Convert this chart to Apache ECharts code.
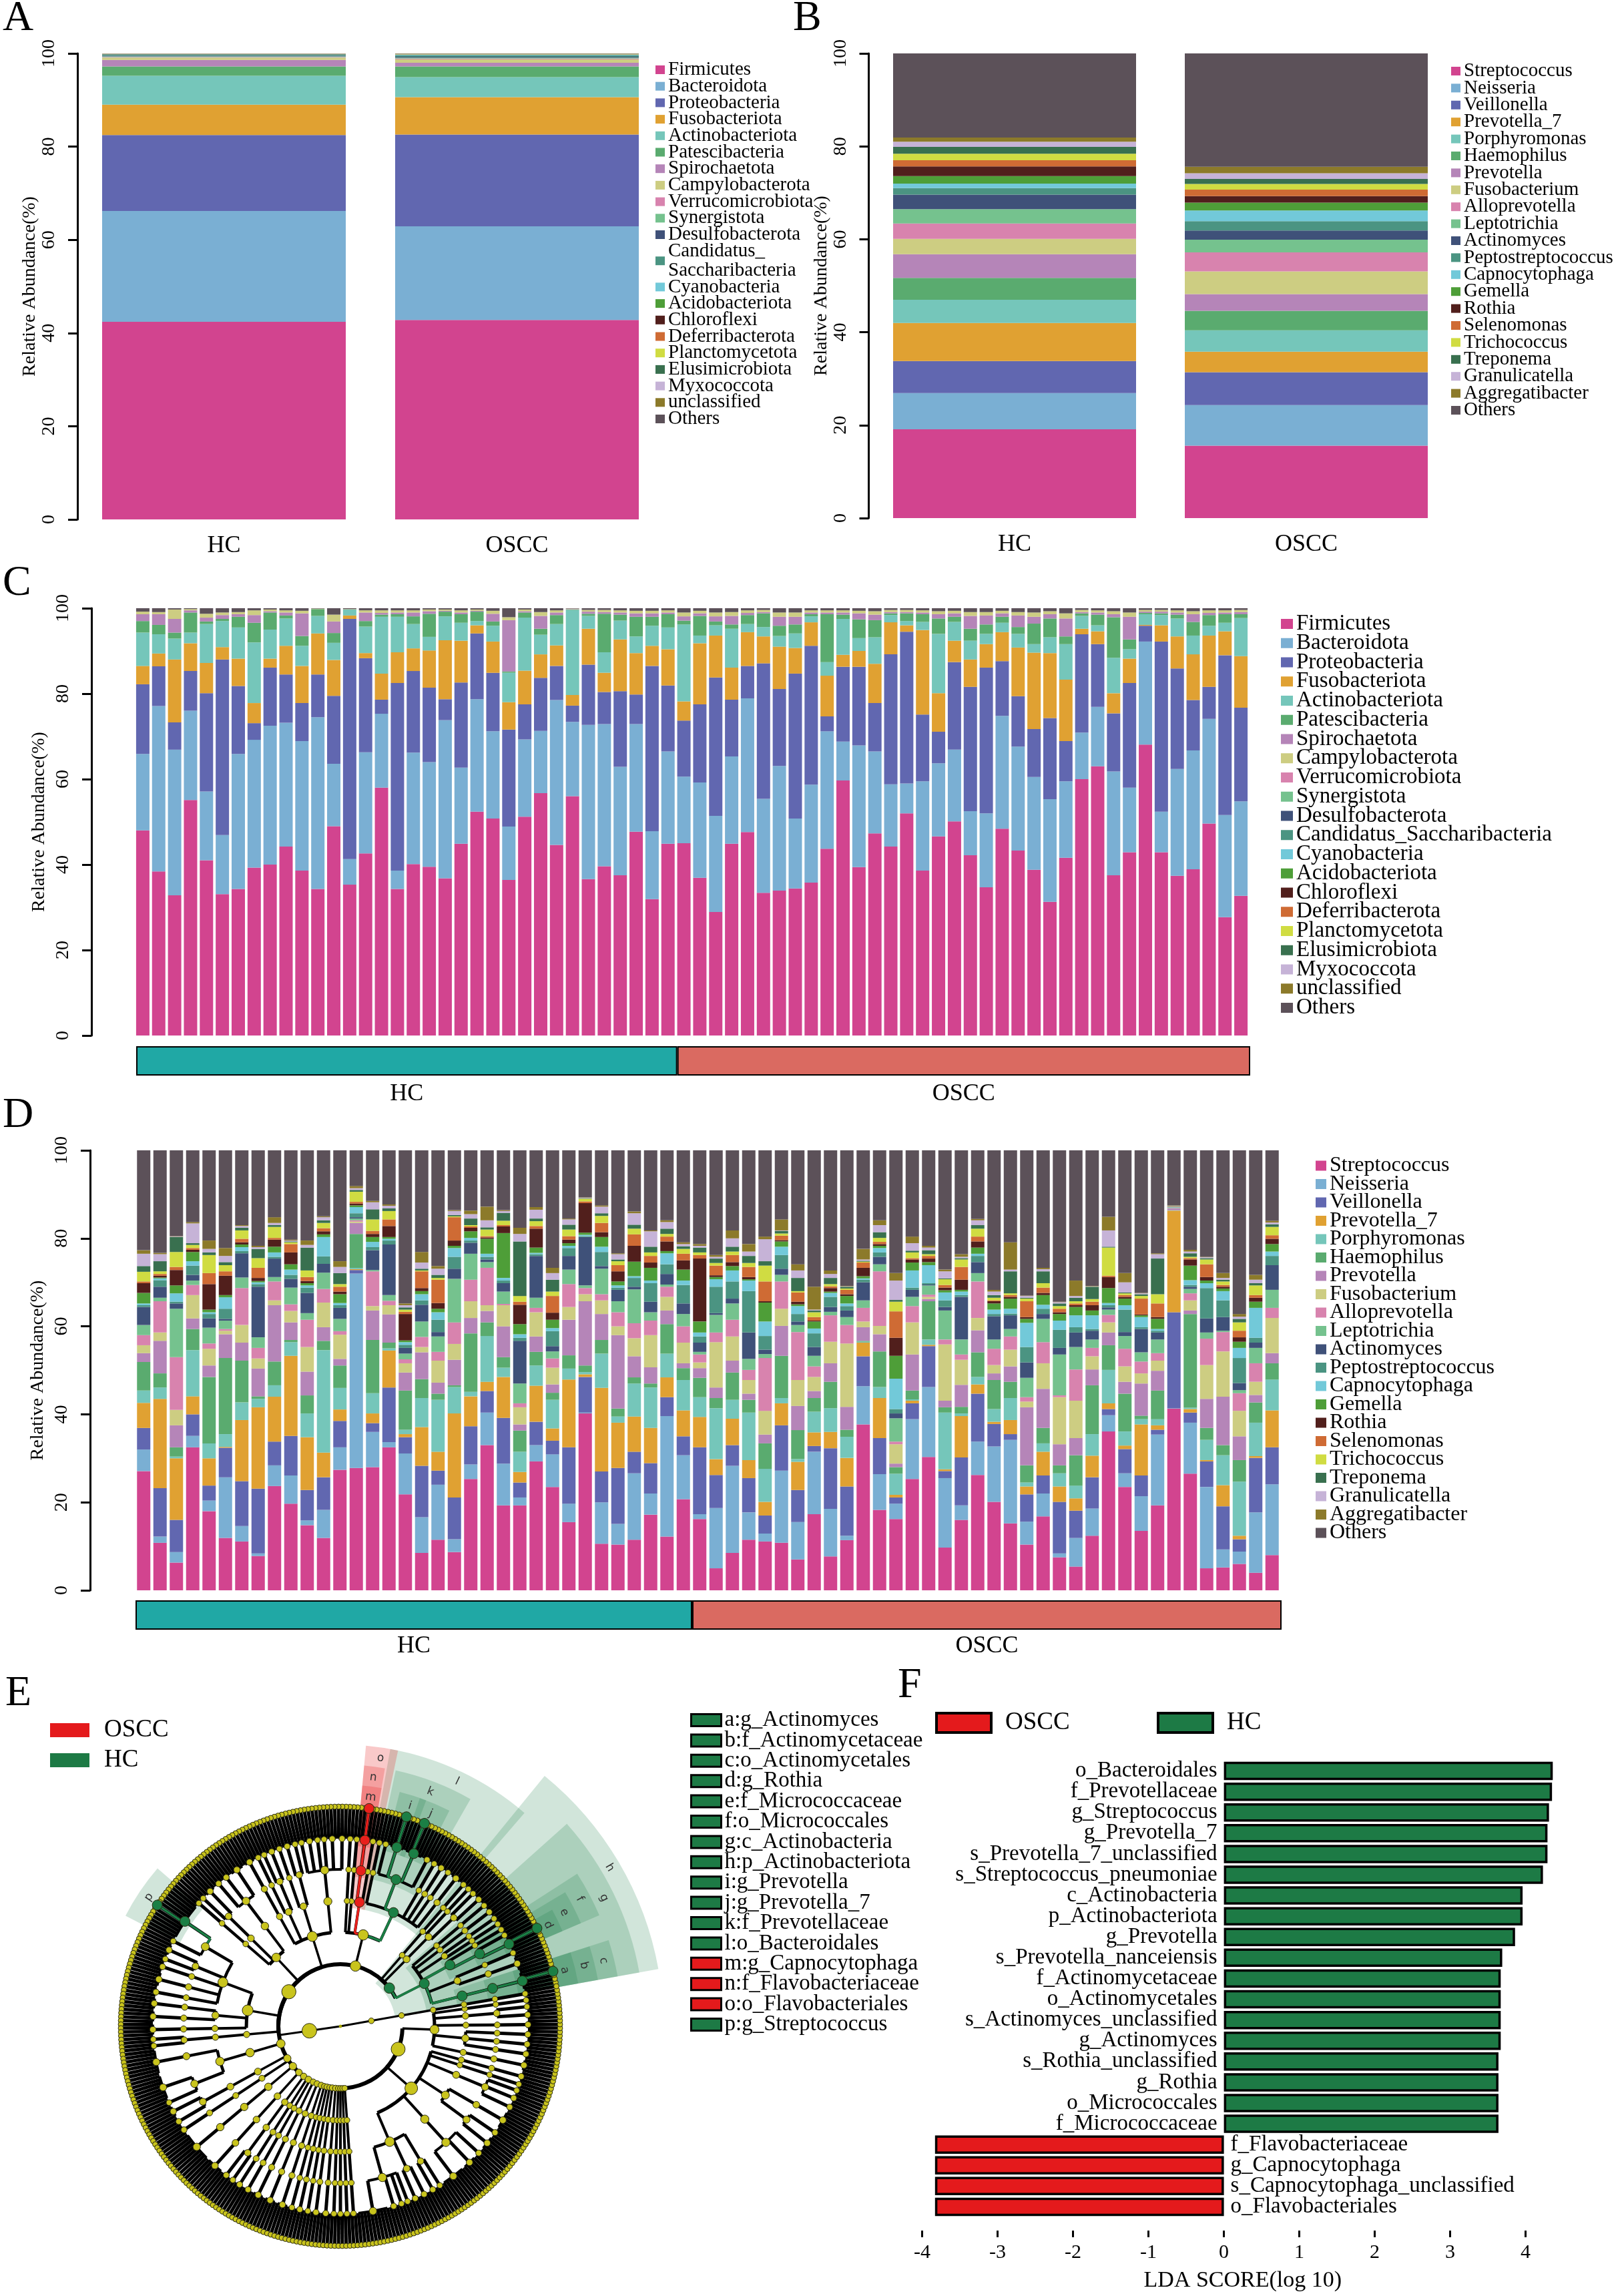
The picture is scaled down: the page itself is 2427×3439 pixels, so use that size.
<!DOCTYPE html>
<html lang="en">
<head>
<meta charset="utf-8">
<title>Oral microbiota: HC vs OSCC</title>
<script src="https://cdn.jsdelivr.net/npm/echarts@6/dist/echarts.min.js"></script>
<style>
  html, body { margin: 0; padding: 0; background: #fff; }
  #fig { width: 2427px; height: 3439px; }
</style>
</head>
<body>
<div id="fig"></div>
<script>
// ---------------- data ----------------
var groupNames = ['HC', 'OSCC'];
var groupSizes = [34, 36];

var phylumNames = ['Firmicutes', 'Bacteroidota', 'Proteobacteria', 'Fusobacteriota', 'Actinobacteriota',
  'Patescibacteria', 'Spirochaetota', 'Campylobacterota', 'Verrucomicrobiota', 'Synergistota',
  'Desulfobacterota', 'Candidatus_Saccharibacteria', 'Cyanobacteria', 'Acidobacteriota', 'Chloroflexi',
  'Deferribacterota', 'Planctomycetota', 'Elusimicrobiota', 'Myxococcota', 'unclassified', 'Others'];
var genusNames = ['Streptococcus', 'Neisseria', 'Veillonella', 'Prevotella_7', 'Porphyromonas',
  'Haemophilus', 'Prevotella', 'Fusobacterium', 'Alloprevotella', 'Leptotrichia', 'Actinomyces',
  'Peptostreptococcus', 'Capnocytophaga', 'Gemella', 'Rothia', 'Selenomonas', 'Trichococcus',
  'Treponema', 'Granulicatella', 'Aggregatibacter', 'Others'];

// A: mean phylum abundance (%) per group, same order as phylumNames
var phylumHC = [42.4, 23.8, 16.3, 6.5, 6.2, 2.0, 1.4, 0.5, 0.1, 0.15, 0.15, 0.25, 0.05, 0.02, 0.02, 0.03, 0.02, 0.01, 0.02, 0.03, 0.05];
var phylumOSCC = [42.8, 20.1, 19.7, 8.0, 4.3, 2.3, 0.8, 0.7, 0.2, 0.2, 0.2, 0.3, 0.1, 0.05, 0.03, 0.05, 0.03, 0.02, 0.03, 0.05, 0.04];

// B: mean genus abundance (%) per group, same order as genusNames
var genusHC = [19.1, 7.8, 6.9, 8.2, 5.0, 4.7, 5.1, 3.3, 3.3, 3.1, 3.1, 1.4, 1.0, 1.6, 2.1, 1.3, 1.4, 1.5, 1.1, 0.9, 18.1];
var genusOSCC = [15.6, 8.7, 7.1, 4.4, 4.6, 4.2, 3.6, 4.9, 4.1, 2.7, 2.0, 2.0, 2.3, 1.7, 1.4, 1.4, 1.2, 1.1, 1.2, 1.4, 24.4];

// C: per-sample phylum profile. "...Top" = upper edge of the segment (cumulative %), 34 HC then 36 OSCC
var cFirmicutesTop = [48.0, 38.4, 32.8, 55.1, 41.0, 33.1, 34.3, 39.3, 40.0, 44.2,
  38.6, 34.3, 49.0, 35.3, 42.6, 58.0, 34.3, 40.1, 39.5, 36.8,
  44.9, 52.4, 50.8, 36.4, 51.2, 56.7, 44.6, 56.0, 36.6, 39.6,
  37.5, 47.7, 31.9, 44.9,
  45.0, 36.9, 28.9, 44.9, 47.6, 33.4, 33.9, 34.4, 35.8, 43.7,
  59.7, 39.4, 47.3, 44.2, 52.0, 38.6, 46.6, 50.1, 42.2, 34.7,
  48.4, 43.3, 38.8, 31.3, 41.6, 60.0, 63.0, 37.5, 42.9, 68.1,
  42.9, 37.4, 38.9, 49.6, 27.7, 32.7];
var cBacteroidotaTop = [65.9, 77.1, 66.9, 76.0, 57.1, 46.9, 65.9, 69.2, 72.5, 73.2,
  68.9, 74.5, 63.6, 41.3, 66.3, 75.3, 38.6, 66.2, 64.0, 73.8,
  62.7, 78.7, 71.2, 48.9, 69.3, 71.3, 78.5, 73.4, 72.7, 72.9,
  62.9, 72.9, 47.8, 66.5,
  60.6, 59.2, 51.4, 65.3, 78.9, 55.4, 63.1, 50.8, 58.7, 71.2,
  68.8, 67.9, 66.5, 58.8, 59.0, 59.5, 63.7, 66.9, 52.5, 52.0,
  74.8, 67.6, 60.5, 55.3, 59.5, 70.9, 76.9, 61.8, 58.0, 92.2,
  52.4, 62.4, 66.7, 74.1, 51.6, 54.8];
var cProteobacteriaTop = [82.2, 86.4, 73.3, 85.3, 80.1, 88.0, 81.8, 73.1, 86.1, 84.5,
  77.8, 84.5, 79.5, 97.5, 88.3, 78.6, 82.5, 85.3, 81.4, 78.7,
  82.6, 94.1, 84.9, 71.6, 77.5, 83.7, 86.5, 77.2, 86.8, 80.4,
  80.6, 79.8, 86.5, 81.9,
  73.7, 77.5, 83.8, 78.6, 86.5, 87.1, 81.1, 84.7, 91.2, 74.7,
  86.3, 86.3, 77.8, 89.2, 94.5, 75.1, 71.1, 87.4, 81.6, 86.1,
  87.6, 79.4, 71.7, 74.3, 68.9, 93.9, 91.6, 75.4, 82.5, 95.9,
  92.2, 85.9, 78.5, 81.6, 89.0, 76.7];
var cFusobacteriotaTop = [86.5, 89.4, 88.0, 91.8, 87.2, 90.9, 88.2, 77.8, 88.2, 91.2,
  86.5, 94.1, 87.9, 98.3, 89.5, 84.7, 89.7, 90.6, 90.1, 92.5,
  92.4, 96.0, 92.2, 78.0, 85.4, 89.2, 91.3, 79.7, 95.2, 84.9,
  92.7, 89.5, 91.2, 90.4,
  78.2, 91.8, 93.6, 86.1, 94.4, 93.4, 91.0, 90.7, 96.7, 84.2,
  89.1, 90.0, 87.0, 96.7, 96.0, 94.9, 80.1, 92.4, 88.0, 91.6,
  94.4, 90.8, 89.6, 89.5, 83.3, 95.2, 94.6, 80.1, 88.2, 96.1,
  96.0, 93.4, 89.2, 93.6, 94.6, 88.8];
var cActinobacteriotaTop = [94.3, 93.9, 92.9, 94.3, 96.3, 97.0, 95.5, 92.0, 95.0, 97.6,
  91.2, 98.2, 91.9, 99.7, 95.7, 98.0, 98.0, 96.3, 93.3, 98.1,
  96.6, 97.0, 95.9, 84.9, 97.8, 93.8, 96.3, 99.6, 98.2, 89.7,
  97.1, 93.4, 95.9, 95.5,
  96.2, 93.6, 96.0, 95.2, 96.3, 95.6, 93.5, 94.1, 98.1, 87.4,
  97.5, 93.0, 93.2, 98.4, 97.0, 96.8, 94.0, 96.8, 92.4, 94.0,
  96.6, 94.0, 91.6, 93.2, 91.6, 98.2, 96.0, 88.4, 90.4, 98.6,
  98.4, 97.6, 93.6, 95.9, 96.6, 97.7];
var cPatescibacteriaTop = [97.0, 96.1, 94.3, 99.0, 96.9, 97.5, 98.0, 96.6, 99.0, 98.3,
  93.5, 99.8, 94.2, 99.7, 97.0, 98.5, 98.6, 98.1, 98.7, 99.2,
  98.6, 99.2, 96.9, 85.2, 99.0, 95.2, 98.4, 99.7, 98.7, 98.7,
  98.5, 98.0, 98.0, 98.6,
  97.1, 98.2, 96.9, 96.2, 98.4, 98.8, 95.9, 96.2, 98.6, 98.6,
  98.5, 97.4, 97.2, 98.8, 98.8, 98.6, 97.6, 98.0, 95.2, 96.2,
  98.0, 95.6, 96.4, 97.6, 93.4, 98.8, 98.5, 97.9, 92.7, 98.9,
  98.8, 98.5, 96.8, 98.4, 98.6, 98.6];
var cSpirochaetotaTop = [98.6, 98.6, 97.5, 99.5, 97.8, 98.4, 98.6, 98.4, 99.3, 99.0,
  98.8, 99.8, 96.9, 99.7, 99.0, 98.9, 99.0, 99.0, 99.3, 99.4,
  99.0, 99.4, 98.7, 97.2, 99.3, 98.2, 99.0, 99.8, 99.2, 99.1,
  99.0, 98.8, 98.8, 99.0,
  98.1, 98.8, 98.1, 98.2, 98.9, 99.1, 98.0, 98.0, 99.0, 99.0,
  99.0, 98.8, 98.5, 99.1, 99.1, 99.0, 98.6, 98.8, 98.2, 98.3,
  98.8, 98.3, 98.0, 98.6, 97.6, 99.1, 99.0, 98.6, 98.0, 99.2,
  99.2, 99.0, 98.6, 98.9, 99.0, 99.1];
// thickness (%) of the Campylobacterota segment
var cCampylobacterota = [0.6, 0.5, 2.2, 0.3, 0.9, 0.6, 0.5, 1.1, 0.4, 0.5,
  0.6, 0.1, 1.6, 0.1, 0.5, 0.6, 0.5, 0.5, 0.4, 0.3,
  0.5, 0.3, 0.7, 0.7, 0.4, 0.9, 0.5, 0.1, 0.4, 0.5,
  0.5, 0.6, 0.6, 0.5,
  0.9, 0.6, 0.9, 0.9, 0.6, 0.5, 1.0, 1.0, 0.5, 0.5,
  0.5, 0.6, 0.8, 0.5, 0.5, 0.5, 0.7, 0.6, 0.9, 0.8,
  0.6, 0.8, 1.0, 0.7, 1.2, 0.5, 0.5, 0.7, 1.0, 0.4,
  0.4, 0.5, 0.7, 0.6, 0.5, 0.5];

// D: per-sample genus profile, upper edges (cumulative %), 34 HC then 36 OSCC
var dStreptococcusTop = [27.1, 10.8, 6.3, 32.5, 18.0, 11.9, 11.1, 7.8, 23.7, 19.7,
  14.8, 11.9, 27.4, 27.8, 28.0, 32.5, 21.8, 8.5, 11.5, 8.7,
  25.3, 33.0, 19.3, 19.3, 29.3, 23.5, 15.5, 40.2, 10.6, 10.4,
  11.5, 17.2, 12.2, 20.7,
  16.2, 5.0, 8.5, 11.5, 11.1, 10.8, 7.0, 17.3, 7.7, 11.4,
  37.7, 18.3, 16.2, 25.3, 30.3, 9.7, 16.0, 26.2, 20.1, 15.2,
  10.4, 16.8, 7.5, 5.4, 12.4, 36.1, 23.5, 13.5, 19.3, 41.3,
  26.5, 5.0, 5.2, 6.0, 4.0, 8.0];
var dNeisseriaTop = [32.0, 12.2, 8.7, 35.1, 20.4, 25.7, 14.6, 8.4, 28.4, 26.1,
  15.9, 18.3, 32.5, 72.0, 36.0, 33.7, 31.1, 16.6, 24.0, 11.6,
  28.6, 40.4, 28.8, 21.1, 33.0, 30.9, 19.7, 40.4, 20.0, 15.1,
  26.6, 22.0, 39.6, 30.7,
  17.3, 18.7, 28.3, 17.7, 12.9, 27.2, 15.5, 31.5, 18.5, 12.4,
  46.4, 26.4, 19.7, 38.9, 46.2, 25.5, 19.3, 33.8, 32.7, 34.2,
  15.6, 22.0, 8.4, 11.9, 18.6, 39.8, 26.6, 21.4, 35.4, 41.4,
  38.1, 23.5, 9.3, 8.8, 17.7, 24.1];
var dVeillonellaTop = [36.9, 23.2, 16.0, 40.0, 23.8, 32.4, 24.8, 23.1, 33.8, 35.1,
  22.8, 25.7, 38.5, 72.8, 38.0, 46.1, 34.8, 28.3, 27.2, 21.1,
  37.3, 45.3, 39.2, 24.5, 38.3, 34.0, 32.5, 48.5, 27.0, 27.8,
  31.5, 28.9, 43.9, 35.0,
  32.5, 26.2, 33.0, 25.5, 17.0, 37.5, 22.8, 32.8, 32.3, 23.6,
  53.2, 34.6, 21.1, 42.5, 55.5, 27.1, 30.2, 44.7, 37.8, 35.5,
  21.8, 26.1, 20.1, 18.1, 25.7, 41.2, 32.1, 26.1, 36.5, 63.2,
  40.4, 29.3, 19.1, 11.6, 30.1, 32.5];
var dPrevotella7Top = [42.6, 43.5, 30.0, 44.1, 30.0, 32.6, 38.7, 41.6, 44.0, 53.3,
  34.8, 31.3, 41.1, 73.0, 40.2, 54.5, 35.5, 37.1, 31.5, 40.2,
  44.1, 47.4, 48.5, 26.9, 46.5, 36.8, 47.9, 49.1, 46.0, 38.1,
  39.5, 36.9, 48.4, 40.9,
  39.4, 29.8, 39.0, 29.6, 20.1, 42.5, 29.2, 35.9, 36.0, 30.1,
  56.3, 43.7, 21.7, 43.1, 55.8, 27.5, 39.6, 46.8, 38.3, 38.7,
  23.6, 31.5, 23.6, 20.9, 30.6, 42.5, 32.9, 37.7, 37.5, 86.3,
  41.2, 29.6, 23.9, 12.4, 30.5, 40.9];
var dPorphyromonasTop = [45.4, 46.1, 30.4, 54.6, 33.4, 35.5, 42.7, 43.5, 46.6, 56.4,
  40.2, 54.6, 46.0, 73.3, 44.8, 55.0, 36.5, 43.7, 43.3, 46.2,
  45.1, 57.8, 50.6, 31.5, 51.1, 43.3, 50.4, 49.6, 53.8, 39.5,
  47.0, 46.1, 53.8, 47.8,
  43.9, 41.4, 43.3, 40.4, 27.6, 43.7, 29.8, 40.6, 41.4, 34.9,
  56.5, 46.2, 26.5, 43.4, 57.0, 40.4, 40.2, 48.5, 41.2, 43.7,
  24.5, 33.4, 26.6, 23.8, 35.5, 50.1, 36.1, 38.9, 38.9, 86.35,
  41.5, 34.2, 30.7, 24.7, 38.1, 47.9];
var dHaemophilusTop = [51.9, 49.3, 32.5, 59.4, 48.5, 52.8, 52.2, 44.1, 52.0, 56.9,
  44.3, 56.7, 51.1, 81.0, 56.9, 56.3, 45.4, 48.0, 44.7, 46.6,
  58.4, 60.9, 53.0, 36.3, 54.2, 44.9, 53.4, 51.1, 56.9, 41.3,
  48.4, 47.0, 60.5, 50.5,
  48.3, 43.7, 49.5, 43.3, 33.4, 53.3, 36.4, 43.7, 47.4, 36.5,
  56.7, 54.3, 28.0, 45.4, 65.7, 41.6, 41.7, 54.1, 47.8, 47.4,
  28.4, 36.9, 28.4, 30.7, 46.6, 55.7, 44.7, 39.7, 45.4, 86.4,
  62.8, 36.9, 33.0, 29.6, 42.7, 51.6];
var dPrevotellaTop = [53.9, 56.7, 37.5, 61.8, 51.1, 58.2, 56.3, 50.4, 64.8, 60.9,
  49.7, 59.8, 52.6, 83.5, 63.6, 62.7, 49.5, 54.1, 47.2, 52.4,
  61.9, 63.5, 60.0, 37.7, 57.7, 46.8, 61.5, 65.7, 62.8, 58.0,
  53.2, 50.7, 63.6, 51.6,
  50.5, 46.1, 52.2, 44.7, 35.4, 60.1, 41.9, 45.3, 51.6, 41.7,
  59.8, 58.2, 28.8, 53.6, 66.2, 43.1, 46.7, 59.1, 49.3, 50.9,
  41.6, 45.8, 33.2, 34.6, 50.2, 58.6, 47.4, 47.0, 49.9, 86.8,
  63.6, 43.5, 44.0, 35.0, 44.4, 53.9];
var dFusobacteriumTop = [55.7, 58.6, 41.0, 67.1, 54.9, 59.0, 60.3, 52.7, 65.9, 63.5,
  55.3, 65.4, 58.1, 83.8, 64.6, 64.8, 51.6, 55.3, 52.2, 56.0,
  65.7, 64.8, 64.8, 41.6, 63.2, 50.6, 64.4, 67.3, 65.9, 60.0,
  57.3, 58.0, 66.7, 56.3,
  51.8, 56.4, 57.7, 47.8, 40.8, 64.0, 47.8, 48.5, 56.5, 56.1,
  61.1, 60.1, 33.2, 60.9, 66.7, 55.9, 52.4, 61.9, 51.2, 54.7,
  42.9, 51.6, 43.9, 43.1, 53.2, 60.9, 50.9, 49.3, 52.2, 86.85,
  65.9, 51.2, 54.3, 40.8, 47.4, 61.9];
var dAlloprevotellaTop = [58.0, 65.7, 53.0, 69.4, 56.1, 59.4, 68.7, 55.1, 70.2, 65.0,
  61.5, 68.5, 58.9, 84.1, 72.5, 65.8, 52.5, 57.6, 54.2, 60.9,
  70.6, 73.3, 65.1, 42.5, 64.2, 52.7, 69.6, 68.7, 67.3, 63.2,
  60.7, 61.3, 69.0, 60.0,
  53.6, 58.6, 61.5, 50.1, 52.8, 70.2, 58.7, 50.9, 62.5, 60.3,
  64.2, 72.5, 33.8, 64.6, 67.2, 57.0, 53.6, 70.2, 54.9, 57.7,
  43.9, 56.4, 44.3, 50.2, 55.1, 62.6, 54.9, 52.0, 53.9, 86.9,
  67.5, 57.2, 58.7, 44.8, 51.6, 64.2];
var dLeptotrichiaTop = [60.3, 66.5, 64.0, 70.4, 59.7, 61.3, 71.1, 57.5, 71.2, 68.8,
  63.0, 72.2, 61.7, 84.5, 72.8, 67.1, 53.8, 61.1, 57.7, 70.8,
  76.5, 74.6, 67.9, 47.0, 66.5, 54.3, 72.9, 69.3, 73.1, 65.7,
  68.4, 63.2, 69.5, 62.8,
  54.2, 62.6, 65.2, 52.6, 53.7, 71.7, 60.3, 53.3, 63.3, 62.1,
  65.9, 74.1, 39.1, 66.7, 69.3, 63.6, 57.0, 72.1, 57.0, 59.4,
  48.3, 61.7, 53.6, 55.3, 57.0, 63.8, 57.8, 54.1, 57.0, 86.95,
  68.5, 58.6, 59.0, 45.5, 55.1, 68.3];
var dActinomycesTop = [64.4, 69.0, 65.2, 71.7, 61.8, 61.7, 76.6, 69.0, 75.4, 70.8,
  67.6, 74.2, 64.2, 84.8, 77.3, 78.6, 55.1, 64.9, 58.7, 73.1,
  79.0, 75.2, 69.8, 56.7, 76.0, 55.5, 76.0, 80.3, 73.7, 68.3,
  69.0, 65.6, 71.9, 65.2,
  56.3, 63.0, 66.3, 58.6, 54.7, 73.1, 61.1, 55.3, 64.4, 63.6,
  70.0, 75.8, 40.2, 68.3, 69.5, 64.4, 66.7, 74.6, 62.3, 62.5,
  51.8, 62.8, 55.1, 58.6, 59.0, 64.3, 58.7, 59.4, 58.6, 87.0,
  69.0, 61.8, 62.1, 47.1, 56.3, 73.9];
var dPeptostreptococcusTop = [64.8, 70.5, 65.6, 73.8, 62.8, 64.0, 77.1, 69.6, 75.8, 71.7,
  68.8, 75.9, 64.8, 85.7, 78.0, 79.5, 55.8, 65.9, 61.5, 75.8,
  79.5, 75.8, 70.4, 57.4, 76.4, 58.9, 77.8, 80.5, 76.9, 68.8,
  71.0, 69.8, 74.1, 69.4,
  57.7, 69.0, 70.2, 68.0, 57.8, 76.2, 62.8, 58.4, 66.7, 64.6,
  70.6, 76.8, 41.2, 68.8, 69.8, 65.9, 67.1, 76.0, 62.8, 62.9,
  55.3, 64.0, 59.2, 59.8, 59.4, 64.8, 63.8, 59.8, 59.0, 87.05,
  69.4, 68.7, 65.9, 52.8, 57.4, 76.0];
var dCapnocytophagaTop = [65.2, 70.9, 67.5, 74.8, 63.2, 66.6, 78.0, 70.0, 76.8, 72.9,
  69.3, 80.3, 65.3, 87.1, 79.2, 79.9, 56.4, 67.3, 63.2, 77.8,
  80.1, 76.5, 71.0, 58.2, 76.7, 59.6, 78.3, 80.8, 78.1, 69.3,
  71.4, 70.4, 76.6, 70.4,
  58.6, 70.7, 72.7, 70.4, 61.1, 78.1, 64.6, 59.5, 67.6, 65.2,
  70.9, 77.8, 48.1, 72.7, 73.9, 67.7, 67.9, 76.5, 63.8, 64.0,
  60.8, 64.9, 61.3, 62.5, 62.5, 65.3, 64.8, 62.1, 59.4, 87.1,
  70.5, 69.8, 68.0, 55.1, 64.2, 77.0];
var dGemellaTop = [67.6, 71.1, 69.3, 76.9, 63.8, 67.1, 78.6, 70.3, 78.1, 74.1,
  69.8, 80.9, 67.3, 87.5, 80.3, 80.3, 56.8, 68.0, 64.0, 78.3,
  81.6, 79.9, 81.2, 60.5, 77.9, 61.5, 78.9, 81.3, 80.3, 70.2,
  74.7, 73.3, 77.1, 72.9,
  61.1, 71.2, 73.7, 70.7, 65.4, 79.3, 65.0, 61.1, 67.9, 66.9,
  71.4, 78.3, 53.3, 74.5, 74.6, 68.2, 68.3, 77.9, 65.2, 66.3,
  61.7, 67.1, 62.8, 64.4, 63.6, 68.7, 66.3, 62.5, 61.7, 87.15,
  73.8, 70.4, 68.6, 56.5, 65.6, 78.7];
var dRothiaTop = [69.8, 71.5, 72.8, 77.4, 69.6, 71.5, 79.1, 71.0, 79.7, 76.8,
  70.3, 81.6, 67.9, 87.9, 81.0, 82.8, 62.8, 68.7, 65.3, 79.5,
  82.4, 80.2, 82.7, 64.9, 82.2, 63.1, 79.7, 88.0, 81.4, 72.5,
  78.3, 74.5, 79.3, 75.0,
  75.4, 71.6, 74.6, 71.2, 65.7, 79.6, 65.6, 61.3, 68.7, 67.3,
  73.3, 78.7, 57.4, 75.2, 75.4, 68.8, 70.6, 79.3, 65.7, 66.7,
  62.1, 67.6, 63.2, 64.8, 64.8, 71.2, 66.7, 62.7, 62.1, 87.2,
  75.2, 71.2, 69.0, 57.5, 66.5, 79.9];
var dSelenomonasTop = [70.2, 71.9, 73.5, 77.8, 72.1, 72.5, 79.9, 73.3, 80.1, 78.7,
  71.2, 82.3, 69.0, 88.3, 81.7, 84.3, 63.3, 72.5, 70.6, 84.8,
  82.7, 80.5, 83.0, 65.6, 82.8, 66.9, 80.5, 88.4, 83.5, 73.9,
  80.9, 76.0, 80.4, 76.5,
  76.2, 73.8, 76.2, 73.5, 70.2, 80.6, 67.7, 62.1, 69.1, 68.3,
  74.5, 79.2, 63.4, 75.5, 76.0, 69.4, 73.5, 80.4, 65.9, 67.1,
  65.7, 68.8, 64.0, 65.2, 65.6, 71.5, 67.1, 66.3, 65.2, 87.25,
  75.5, 74.1, 69.4, 59.0, 67.1, 80.7];
var dTrichococcusTop = [72.4, 72.5, 76.9, 78.5, 76.2, 73.9, 81.8, 75.5, 82.6, 79.1,
  72.7, 83.5, 69.6, 90.6, 84.3, 86.2, 63.8, 72.7, 71.0, 85.0,
  83.0, 82.0, 84.0, 66.9, 83.9, 67.9, 82.0, 89.0, 85.1, 74.8,
  82.2, 76.8, 81.0, 77.6,
  76.8, 74.4, 77.0, 74.4, 73.8, 81.1, 68.0, 63.2, 69.6, 68.6,
  74.7, 80.1, 65.6, 76.8, 76.4, 70.7, 75.2, 82.2, 66.5, 67.5,
  66.3, 69.8, 64.6, 65.7, 66.2, 77.9, 67.5, 66.9, 67.3, 87.3,
  75.8, 75.2, 70.2, 60.9, 69.3, 82.6];
var dTreponemaTop = [73.7, 74.8, 80.3, 78.9, 76.8, 74.6, 82.4, 77.6, 83.0, 79.3,
  77.9, 84.1, 72.1, 91.0, 86.6, 86.8, 64.3, 73.1, 71.7, 85.3,
  84.5, 82.5, 85.8, 79.3, 84.5, 70.6, 83.1, 89.1, 85.7, 75.2,
  83.1, 78.1, 82.2, 78.2,
  77.9, 75.4, 78.1, 76.0, 74.8, 81.7, 71.0, 63.6, 71.0, 69.0,
  74.9, 81.4, 66.0, 77.2, 77.3, 70.9, 75.5, 83.0, 67.1, 72.5,
  66.5, 72.5, 65.2, 66.5, 69.0, 78.1, 67.7, 67.3, 75.4, 87.35,
  76.6, 75.5, 70.6, 61.7, 69.8, 83.2];
var dGranulicatellaTop = [76.5, 76.4, 80.4, 83.4, 77.6, 76.0, 82.8, 78.0, 83.5, 79.5,
  78.5, 84.8, 73.5, 91.4, 88.2, 87.4, 64.8, 74.5, 73.1, 86.2,
  85.5, 84.1, 86.2, 81.0, 86.5, 72.1, 84.3, 89.2, 87.2, 76.4,
  85.7, 81.6, 83.7, 78.7,
  78.3, 75.8, 80.0, 77.0, 79.8, 81.8, 72.7, 63.8, 71.9, 69.1,
  75.2, 83.0, 70.4, 78.9, 77.9, 72.5, 75.8, 84.1, 67.9, 72.9,
  66.9, 73.0, 65.5, 66.9, 69.1, 81.8, 70.0, 67.5, 76.4, 87.4,
  77.0, 75.7, 71.0, 62.2, 70.6, 83.6];
var dAggregatibacterTop = [77.3, 76.7, 80.5, 83.7, 79.5, 77.8, 83.0, 78.3, 84.8, 79.7,
  79.5, 85.0, 74.8, 91.9, 88.5, 87.7, 65.2, 76.9, 73.7, 86.4,
  86.3, 87.2, 86.4, 82.4, 87.1, 73.3, 84.5, 89.3, 87.5, 76.6,
  86.1, 81.8, 84.1, 79.1,
  78.7, 76.2, 81.8, 78.7, 80.4, 84.3, 74.1, 69.0, 72.7, 69.2,
  77.6, 84.1, 72.1, 80.4, 78.3, 72.9, 76.4, 84.4, 68.3, 79.1,
  67.0, 73.3, 65.6, 70.4, 69.2, 84.9, 72.1, 67.6, 76.6, 87.5,
  77.4, 75.8, 72.1, 62.8, 71.7, 84.0];

// E: taxonomy behind the cladogram: phylum, class, order, family, genus, number of species tips
var archaeaPhyla = ['Euryarchaeota'];
var cladeRows = [
  ['Actinobacteriota', 'Actinobacteria', 'Actinomycetales', 'Actinomycetaceae', 'Actinomyces', 6],
  ['Actinobacteriota', 'Actinobacteria', 'Corynebacteriales', 'Corynebacteriaceae', 'Corynebacterium', 5],
  ['Actinobacteriota', 'Actinobacteria', 'Corynebacteriales', 'Mycobacteriaceae', 'Mycobacterium', 2],
  ['Actinobacteriota', 'Actinobacteria', 'Micrococcales', 'Micrococcaceae', 'Rothia', 4],
  ['Actinobacteriota', 'Actinobacteria', 'Micrococcales', 'Micrococcaceae', 'Micrococcus', 2],
  ['Actinobacteriota', 'Actinobacteria', 'Micrococcales', 'Microbacteriaceae', 'Microbacterium', 2],
  ['Actinobacteriota', 'Actinobacteria', 'Propionibacteriales', 'Propionibacteriaceae', 'Cutibacterium', 2],
  ['Actinobacteriota', 'Actinobacteria', 'Propionibacteriales', 'Nocardioidaceae', 'Nocardioides', 2],
  ['Actinobacteriota', 'Actinobacteria', 'Bifidobacteriales', 'Bifidobacteriaceae', 'Bifidobacterium', 3],
  ['Actinobacteriota', 'Actinobacteria', 'Streptomycetales', 'Streptomycetaceae', 'Streptomyces', 2],
  ['Actinobacteriota', 'Coriobacteriia', 'Coriobacteriales', 'Atopobiaceae', 'Atopobium', 3],
  ['Actinobacteriota', 'Coriobacteriia', 'Coriobacteriales', 'Atopobiaceae', 'Olsenella', 2],
  ['Actinobacteriota', 'Coriobacteriia', 'Coriobacteriales', 'Eggerthellaceae', 'Slackia', 2],
  ['Actinobacteriota', 'Thermoleophilia', 'Solirubrobacterales', 'Solirubrobacteraceae', 'Solirubrobacter', 2],
  ['Bacteroidota', 'Bacteroidia', 'Bacteroidales', 'Porphyromonadaceae', 'Porphyromonas', 4],
  ['Bacteroidota', 'Bacteroidia', 'Bacteroidales', 'Tannerellaceae', 'Tannerella', 2],
  ['Bacteroidota', 'Bacteroidia', 'Bacteroidales', 'Bacteroidaceae', 'Bacteroides', 3],
  ['Bacteroidota', 'Bacteroidia', 'Bacteroidales', 'Muribaculaceae', 'Muribaculum', 2],
  ['Bacteroidota', 'Bacteroidia', 'Bacteroidales', 'Prevotellaceae', 'Alloprevotella', 3],
  ['Bacteroidota', 'Bacteroidia', 'Bacteroidales', 'Prevotellaceae', 'Prevotella_7', 6],
  ['Bacteroidota', 'Bacteroidia', 'Bacteroidales', 'Prevotellaceae', 'Prevotella', 5],
  ['Bacteroidota', 'Bacteroidia', 'Bacteroidales', 'Prevotellaceae', 'Prevotellaceae_UCG', 2],
  ['Bacteroidota', 'Bacteroidia', 'Bacteroidales', 'Rikenellaceae', 'Alistipes', 2],
  ['Bacteroidota', 'Bacteroidia', 'Flavobacteriales', 'Weeksellaceae', 'Bergeyella', 2],
  ['Bacteroidota', 'Bacteroidia', 'Flavobacteriales', 'Flavobacteriaceae', 'Capnocytophaga', 3],
  ['Bacteroidota', 'Bacteroidia', 'Chitinophagales', 'Chitinophagaceae', 'Sediminibacterium', 2],
  ['Bacteroidota', 'Bacteroidia', 'Sphingobacteriales', 'Sphingobacteriaceae', 'Sphingobacterium', 2],
  ['Firmicutes', 'Clostridia', 'Lachnospirales', 'Lachnospiraceae', 'Oribacterium', 3],
  ['Firmicutes', 'Clostridia', 'Lachnospirales', 'Lachnospiraceae', 'Lachnoanaerobaculum', 3],
  ['Firmicutes', 'Clostridia', 'Lachnospirales', 'Lachnospiraceae', 'Stomatobaculum', 2],
  ['Firmicutes', 'Clostridia', 'Lachnospirales', 'Lachnospiraceae', 'Catonella', 2],
  ['Firmicutes', 'Clostridia', 'Lachnospirales', 'Lachnospiraceae', 'Blautia', 3],
  ['Firmicutes', 'Clostridia', 'Lachnospirales', 'Lachnospiraceae', 'Roseburia', 2],
  ['Firmicutes', 'Clostridia', 'Oscillospirales', 'Ruminococcaceae', 'Faecalibacterium', 2],
  ['Firmicutes', 'Clostridia', 'Oscillospirales', 'Ruminococcaceae', 'Ruminococcus', 3],
  ['Firmicutes', 'Clostridia', 'Oscillospirales', 'Oscillospiraceae', 'Oscillibacter', 2],
  ['Firmicutes', 'Clostridia', 'Peptostreptococcales', 'Peptostreptococcaceae', 'Peptostreptococcus', 3],
  ['Firmicutes', 'Clostridia', 'Peptostreptococcales', 'Peptostreptococcaceae', 'Filifactor', 2],
  ['Firmicutes', 'Clostridia', 'Peptostreptococcales', 'Family_XIII', 'Mogibacterium', 2],
  ['Firmicutes', 'Clostridia', 'Clostridiales', 'Clostridiaceae', 'Clostridium', 4],
  ['Firmicutes', 'Negativicutes', 'Veillonellales', 'Veillonellaceae', 'Veillonella', 5],
  ['Firmicutes', 'Negativicutes', 'Veillonellales', 'Veillonellaceae', 'Megasphaera', 3],
  ['Firmicutes', 'Negativicutes', 'Veillonellales', 'Veillonellaceae', 'Dialister', 3],
  ['Firmicutes', 'Negativicutes', 'Selenomonadales', 'Selenomonadaceae', 'Selenomonas', 4],
  ['Firmicutes', 'Negativicutes', 'Selenomonadales', 'Selenomonadaceae', 'Centipeda', 2],
  ['Firmicutes', 'Negativicutes', 'Acidaminococcales', 'Acidaminococcaceae', 'Acidaminococcus', 2],
  ['Firmicutes', 'Bacilli', 'Lactobacillales', 'Streptococcaceae', 'Streptococcus', 12],
  ['Firmicutes', 'Bacilli', 'Lactobacillales', 'Streptococcaceae', 'Lactococcus', 2],
  ['Firmicutes', 'Bacilli', 'Lactobacillales', 'Carnobacteriaceae', 'Granulicatella', 4],
  ['Firmicutes', 'Bacilli', 'Lactobacillales', 'Carnobacteriaceae', 'Trichococcus', 2],
  ['Firmicutes', 'Bacilli', 'Lactobacillales', 'Aerococcaceae', 'Abiotrophia', 3],
  ['Firmicutes', 'Bacilli', 'Lactobacillales', 'Lactobacillaceae', 'Lactobacillus', 5],
  ['Firmicutes', 'Bacilli', 'Lactobacillales', 'Enterococcaceae', 'Enterococcus', 3],
  ['Firmicutes', 'Bacilli', 'Staphylococcales', 'Gemellaceae', 'Gemella', 4],
  ['Firmicutes', 'Bacilli', 'Staphylococcales', 'Staphylococcaceae', 'Staphylococcus', 4],
  ['Firmicutes', 'Bacilli', 'Bacillales', 'Bacillaceae', 'Bacillus', 4],
  ['Firmicutes', 'Erysipelotrichia', 'Erysipelotrichales', 'Erysipelotrichaceae', 'Solobacterium', 2],
  ['Firmicutes', 'Erysipelotrichia', 'Erysipelotrichales', 'Erysipelotrichaceae', 'Bulleidia', 2],
  ['Fusobacteriota', 'Fusobacteriia', 'Fusobacteriales', 'Fusobacteriaceae', 'Fusobacterium', 8],
  ['Fusobacteriota', 'Fusobacteriia', 'Fusobacteriales', 'Leptotrichiaceae', 'Leptotrichia', 8],
  ['Fusobacteriota', 'Fusobacteriia', 'Fusobacteriales', 'Leptotrichiaceae', 'Sneathia', 2],
  ['Patescibacteria', 'Saccharimonadia', 'Saccharimonadales', 'Saccharimonadaceae', 'TM7x', 4],
  ['Patescibacteria', 'Saccharimonadia', 'Saccharimonadales', 'Saccharimonadaceae', 'Saccharimonas', 3],
  ['Patescibacteria', 'Gracilibacteria', 'Absconditabacteriales_SR1', 'SR1_fam', 'SR1_gen', 3],
  ['Spirochaetota', 'Spirochaetia', 'Spirochaetales', 'Spirochaetaceae', 'Treponema', 10],
  ['Campylobacterota', 'Campylobacteria', 'Campylobacterales', 'Campylobacteraceae', 'Campylobacter', 6],
  ['Synergistota', 'Synergistia', 'Synergistales', 'Synergistaceae', 'Fretibacterium', 3],
  ['Synergistota', 'Synergistia', 'Synergistales', 'Synergistaceae', 'Jonquetella', 2],
  ['Desulfobacterota', 'Desulfobulbia', 'Desulfobulbales', 'Desulfobulbaceae', 'Desulfobulbus', 3],
  ['Desulfobacterota', 'Desulfovibrionia', 'Desulfovibrionales', 'Desulfovibrionaceae', 'Desulfovibrio', 3],
  ['Cyanobacteria', 'Cyanobacteriia', 'Chloroplast', 'Chloroplast_fam', 'Chloroplast_gen', 4],
  ['Acidobacteriota', 'Acidobacteriae', 'Acidobacteriales', 'Acidobacteriaceae', 'Granulicella', 4],
  ['Chloroflexi', 'Anaerolineae', 'Anaerolineales', 'Anaerolineaceae', 'Anaerolinea', 4],
  ['Deferribacterota', 'Deferribacteres', 'Deferribacterales', 'Deferribacteraceae', 'Mucispirillum', 2],
  ['Planctomycetota', 'Planctomycetes', 'Pirellulales', 'Pirellulaceae', 'Pirellula', 3],
  ['Elusimicrobiota', 'Elusimicrobia', 'Elusimicrobiales', 'Elusimicrobiaceae', 'Elusimicrobium', 2],
  ['Myxococcota', 'Polyangia', 'Polyangiales', 'Polyangiaceae', 'Sorangium', 3],
  ['Verrucomicrobiota', 'Verrucomicrobiae', 'Verrucomicrobiales', 'Akkermansiaceae', 'Akkermansia', 3],
  ['Deinococcota', 'Deinococci', 'Deinococcales', 'Deinococcaceae', 'Deinococcus', 2],
  ['Gemmatimonadota', 'Gemmatimonadetes', 'Gemmatimonadales', 'Gemmatimonadaceae', 'Gemmatimonas', 2],
  ['Bdellovibrionota', 'Bdellovibrionia', 'Bdellovibrionales', 'Bdellovibrionaceae', 'Bdellovibrio', 2],
  ['Nitrospirota', 'Nitrospiria', 'Nitrospirales', 'Nitrospiraceae', 'Nitrospira', 2],
  ['Proteobacteria', 'Gammaproteobacteria', 'Burkholderiales', 'Neisseriaceae', 'Neisseria', 10],
  ['Proteobacteria', 'Gammaproteobacteria', 'Burkholderiales', 'Neisseriaceae', 'Kingella', 3],
  ['Proteobacteria', 'Gammaproteobacteria', 'Burkholderiales', 'Neisseriaceae', 'Eikenella', 2],
  ['Proteobacteria', 'Gammaproteobacteria', 'Burkholderiales', 'Neisseriaceae', 'Simonsiella', 2],
  ['Proteobacteria', 'Gammaproteobacteria', 'Burkholderiales', 'Burkholderiaceae', 'Lautropia', 3],
  ['Proteobacteria', 'Gammaproteobacteria', 'Burkholderiales', 'Burkholderiaceae', 'Ralstonia', 3],
  ['Proteobacteria', 'Gammaproteobacteria', 'Burkholderiales', 'Comamonadaceae', 'Delftia', 3],
  ['Proteobacteria', 'Gammaproteobacteria', 'Burkholderiales', 'Comamonadaceae', 'Comamonas', 2],
  ['Proteobacteria', 'Gammaproteobacteria', 'Pasteurellales', 'Pasteurellaceae', 'Haemophilus', 8],
  ['Proteobacteria', 'Gammaproteobacteria', 'Pasteurellales', 'Pasteurellaceae', 'Aggregatibacter', 5],
  ['Proteobacteria', 'Gammaproteobacteria', 'Pasteurellales', 'Pasteurellaceae', 'Actinobacillus', 3],
  ['Proteobacteria', 'Gammaproteobacteria', 'Pseudomonadales', 'Moraxellaceae', 'Acinetobacter', 5],
  ['Proteobacteria', 'Gammaproteobacteria', 'Pseudomonadales', 'Moraxellaceae', 'Moraxella', 3],
  ['Proteobacteria', 'Gammaproteobacteria', 'Pseudomonadales', 'Pseudomonadaceae', 'Pseudomonas', 6],
  ['Proteobacteria', 'Gammaproteobacteria', 'Enterobacterales', 'Enterobacteriaceae', 'Escherichia', 3],
  ['Proteobacteria', 'Gammaproteobacteria', 'Enterobacterales', 'Enterobacteriaceae', 'Klebsiella', 3],
  ['Proteobacteria', 'Gammaproteobacteria', 'Enterobacterales', 'Enterobacteriaceae', 'Enterobacter', 2],
  ['Proteobacteria', 'Gammaproteobacteria', 'Cardiobacteriales', 'Cardiobacteriaceae', 'Cardiobacterium', 2],
  ['Proteobacteria', 'Gammaproteobacteria', 'Xanthomonadales', 'Xanthomonadaceae', 'Stenotrophomonas', 3],
  ['Proteobacteria', 'Alphaproteobacteria', 'Sphingomonadales', 'Sphingomonadaceae', 'Sphingomonas', 4],
  ['Proteobacteria', 'Alphaproteobacteria', 'Rhizobiales', 'Rhizobiaceae', 'Rhizobium', 3],
  ['Proteobacteria', 'Alphaproteobacteria', 'Rhizobiales', 'Xanthobacteraceae', 'Bradyrhizobium', 3],
  ['Proteobacteria', 'Alphaproteobacteria', 'Rhizobiales', 'Beijerinckiaceae', 'Methylobacterium', 3],
  ['Proteobacteria', 'Alphaproteobacteria', 'Rhodobacterales', 'Rhodobacteraceae', 'Paracoccus', 3],
  ['Proteobacteria', 'Alphaproteobacteria', 'Caulobacterales', 'Caulobacteraceae', 'Brevundimonas', 3],
  ['Proteobacteria', 'Alphaproteobacteria', 'Caulobacterales', 'Caulobacteraceae', 'Caulobacter', 2],
  ['Proteobacteria', 'Alphaproteobacteria', 'Rickettsiales', 'Mitochondria', 'Mitochondria_gen', 2],
  ['Euryarchaeota', 'Methanobacteria', 'Methanobacteriales', 'Methanobacteriaceae', 'Methanobrevibacter', 2]
];
// discriminant clades (letter, taxon, enriched group)
var cladeMarks = [
  ['a', 'g_Actinomyces', 'HC'], ['b', 'f_Actinomycetaceae', 'HC'], ['c', 'o_Actinomycetales', 'HC'],
  ['d', 'g_Rothia', 'HC'], ['e', 'f_Micrococcaceae', 'HC'], ['f', 'o_Micrococcales', 'HC'],
  ['g', 'c_Actinobacteria', 'HC'], ['h', 'p_Actinobacteriota', 'HC'], ['i', 'g_Prevotella', 'HC'],
  ['j', 'g_Prevotella_7', 'HC'], ['k', 'f_Prevotellaceae', 'HC'], ['l', 'o_Bacteroidales', 'HC'],
  ['m', 'g_Capnocytophaga', 'OSCC'], ['n', 'f_Flavobacteriaceae', 'OSCC'], ['o', 'o_Flavobacteriales', 'OSCC'],
  ['p', 'g_Streptococcus', 'HC']
];
// genera whose discriminant species tip is also coloured
var cladeSpeciesMarks = [['Actinomyces', 'HC'], ['Rothia', 'HC'], ['Prevotella_7', 'HC'],
  ['Prevotella', 'HC'], ['Streptococcus', 'HC'], ['Capnocytophaga', 'OSCC']];

// F: LDA scores
var ldaTaxa = ['o_Bacteroidales', 'f_Prevotellaceae', 'g_Streptococcus', 'g_Prevotella_7',
  's_Prevotella_7_unclassified', 's_Streptococcus_pneumoniae', 'c_Actinobacteria', 'p_Actinobacteriota',
  'g_Prevotella', 's_Prevotella_nanceiensis', 'f_Actinomycetaceae', 'o_Actinomycetales',
  's_Actinomyces_unclassified', 'g_Actinomyces', 's_Rothia_unclassified', 'g_Rothia', 'o_Micrococcales',
  'f_Micrococcaceae', 'f_Flavobacteriaceae', 'g_Capnocytophaga', 's_Capnocytophaga_unclassified',
  'o_Flavobacteriales'];
var ldaScore = [4.36, 4.35, 4.31, 4.29, 4.29, 4.23, 3.96, 3.96, 3.86, 3.69, 3.67, 3.67, 3.67, 3.67,
  3.64, 3.64, 3.64, 3.64, -3.83, -3.83, -3.83, -3.83];
var ldaGroup = ['HC', 'HC', 'HC', 'HC', 'HC', 'HC', 'HC', 'HC', 'HC', 'HC', 'HC', 'HC', 'HC', 'HC',
  'HC', 'HC', 'HC', 'HC', 'OSCC', 'OSCC', 'OSCC', 'OSCC'];
var ldaTicks = [-4, -3, -2, -1, 0, 1, 2, 3, 4];

// ---------------- styling / layout ----------------
var FONT = '"Liberation Serif", "Times New Roman", serif';
var palette = ['#d2448f', '#7aafd3', '#6167b0', '#e0a132', '#75c6ba', '#5aab6f', '#b585b8', '#cdcd82',
  '#d883ae', '#75c28e', '#3f5179', '#4b9482', '#72c9d9', '#4e9e38', '#511f1c', '#cf6b34', '#d0dc42',
  '#39704f', '#c6b3d7', '#8c7a2a', '#5c5159'];
var groupFill = ['#20a8a5', '#da6a61'];
var ldaFill = {HC: '#1d7a45', OSCC: '#e41a1c'};

// cladogram rings (px from centre) for root, kingdom ... species; shading reach by rank
var ringRadius = [0, 47, 93, 141, 188, 235, 281, 329];
var shadeOuter = [0, 0, 484, 455, 422, 392, 362, 0];
var arcWidth = [0, 0, 6, 5, 4.5, 4, 3.5, 0];
var radialWidth = [0, 0, 3.2, 3.5, 4, 4.5, 5, 5];
var cladeStart = 11;
var rankPrefix = ['', 'k_', 'p_', 'c_', 'o_', 'f_', 'g_', 's_'];
var cladeInk = ['#000000', '#1b7f45', '#e8201c'];
var nodeFill = ['#c9c41d', '#1b7f45', '#e8201c', '#a8a800'];
var shadeFill = ['rgba(0,0,0,0)', 'rgba(27,127,69,0.2)', 'rgba(232,40,40,0.25)'];
var RAD = Math.PI / 180;

// ---------------- helpers ----------------
function layersFromTops(tops) {
  return tops.map(function (t, k) {
    return t.map(function (v, i) { return +Math.max(0, v - (k ? tops[k - 1][i] : 0)).toFixed(2); });
  });
}
function stackBar(name, data, color, axis, stack, width) {
  return {type: 'bar', name: name, data: data, stack: stack, xAxisIndex: axis, yAxisIndex: axis,
    barWidth: width, itemStyle: {color: color}, emphasis: {disabled: true}};
}
function abundanceAxis(gridIndex, offset, nameGap) {
  return {type: 'value', gridIndex: gridIndex, min: 0, max: 100, interval: 20, offset: offset,
    name: 'Relative Abundance(%)', nameLocation: 'middle', nameGap: nameGap, nameRotate: 90,
    nameTextStyle: {fontFamily: FONT, fontSize: 28, color: '#000'},
    axisLine: {show: true, lineStyle: {color: '#000', width: 3}},
    axisTick: {show: true, length: 14, lineStyle: {color: '#000', width: 3}},
    axisLabel: {rotate: 90, margin: 28, fontFamily: FONT, fontSize: 28, color: '#000'},
    splitLine: {show: false}};
}
function groupBars(axis, stack, distance) {
  return groupNames.map(function (g, gi) {
    return {type: 'bar', name: 'group ' + g, stack: stack, xAxisIndex: axis, yAxisIndex: axis,
      barWidth: '100%', data: [groupSizes[gi]],
      itemStyle: {color: groupFill[gi], borderColor: '#000', borderWidth: 2},
      label: {show: true, position: 'bottom', distance: distance, formatter: g,
        fontFamily: FONT, fontSize: 36, color: '#000'},
      emphasis: {disabled: true}};
  });
}
function legendBlock(names, left, top, opt) {
  return Object.assign({orient: 'vertical', left: left, top: top, data: names, icon: 'rect',
    selectedMode: false, padding: 0,
    textStyle: {fontFamily: FONT, color: '#000'}}, opt);
}

var sampleNames = [];
groupNames.forEach(function (g, gi) {
  for (var i = 0; i < groupSizes[gi]; i++) sampleNames.push(g + '_' + (i + 1));
});
var sampleTotal = groupSizes[0] + groupSizes[1];

// ---------------- cladogram layout ----------------
function buildClade() {
  var root = {name: 'root', level: 0, kids: [], index: {}};
  cladeRows.forEach(function (row) {
    var path = [archaeaPhyla.indexOf(row[0]) >= 0 ? 'Archaea' : 'Bacteria'].concat(row.slice(0, 5));
    var node = root;
    path.forEach(function (nm, i) {
      var key = rankPrefix[i + 1] + nm;
      if (!node.index[key]) {
        var kid = {name: key, level: i + 1, kids: [], index: {}};
        node.index[key] = kid;
        node.kids.push(kid);
      }
      node = node.index[key];
    });
    for (var s = 0; s < row[5]; s++) node.kids.push({name: 's_' + row[4] + '_' + (s + 1), level: 7, kids: [], index: {}});
  });
  return root;
}
var cladeRoot = buildClade();
var cladeLeaves = [];
(function collect(n) { if (!n.kids.length) cladeLeaves.push(n); n.kids.forEach(collect); })(cladeRoot);
var leafStep = 360 / cladeLeaves.length;
cladeLeaves.forEach(function (lf, i) { lf.angle = cladeStart + (i + 0.5) * leafStep; });
(function place(n) {
  if (!n.kids.length) { n.lo = n.hi = n.angle; n.count = 1; return; }
  n.kids.forEach(place);
  var a = n.kids[0], b = n.kids[n.kids.length - 1];
  n.angle = (a.angle + b.angle) / 2;
  n.lo = a.lo; n.hi = b.hi;
  n.count = n.kids.reduce(function (s, k) { return s + k.count; }, 0);
})(cladeRoot);

var byName = {};
(function idx(n) { byName[n.name] = n; n.kids.forEach(idx); })(cladeRoot);
var markGroup = {};
cladeMarks.forEach(function (m) { markGroup[m[1]] = m[2] === 'HC' ? 1 : 2; });
cladeSpeciesMarks.forEach(function (m) {
  var g = byName['g_' + m[0]];
  markGroup[g.kids[Math.floor(g.kids.length / 2)].name] = m[1] === 'HC' ? 1 : 2;
});

var edgeData = [], hiEdgeData = [];
(function walk(n) {
  if (!n.kids.length) return;
  var first = n.kids[0].angle, last = n.kids[n.kids.length - 1].angle;
  if (n.level === 0) {
    n.kids.forEach(function (k) { edgeData.push([0, 0, k.angle, ringRadius[1], k.angle, 3, 0]); });
  } else if (n.level === 1) {
    edgeData.push([0, ringRadius[1], n.angle, ringRadius[2], n.angle, 3, 0]);
    edgeData.push([1, ringRadius[2], first, ringRadius[2], last, arcWidth[2], 0]);
  } else {
    var r0 = ringRadius[n.level], r1 = ringRadius[n.level + 1];
    edgeData.push([1, r0, first, r0, last, arcWidth[n.level], 0]);
    n.kids.forEach(function (k) {
      var g = markGroup[k.name] || 0;
      edgeData.push([0, r0, k.angle, r1, k.angle, radialWidth[k.level], 0]);
      if (g) {
        hiEdgeData.push([1, r0, Math.min(n.angle, k.angle), r0, Math.max(n.angle, k.angle), 3.5, g]);
        hiEdgeData.push([0, r0, k.angle, r1, k.angle, 3.5, g]);
      }
    });
  }
  n.kids.forEach(walk);
})(cladeRoot);

var nodeData = [];
(function nodes(n) {
  if (n.level > 0) {
    var g = markGroup[n.name] || 0;
    var size = Math.min(11, 3.2 + 0.75 * Math.sqrt(n.count));
    if (g) size = Math.max(size, 7.5);
    nodeData.push([ringRadius[n.level], n.angle % 360, size, g]);
  }
  n.kids.forEach(nodes);
})(cladeRoot);
nodeData.sort(function (a, b) { return (a[3] ? 1 : 0) - (b[3] ? 1 : 0); });
nodeData.unshift([0, 0, 2, 3]);

var shadeData = cladeMarks.map(function (m, i) {
  var n = byName[m[1]];
  return [ringRadius[n.level] - 10, n.lo - leafStep / 2 - 0.8, shadeOuter[n.level],
    n.hi + leafStep / 2 + 0.8, markGroup[m[1]], i, n.level];
}).sort(function (a, b) { return a[6] - b[6]; });

function pxRadius(params, api, r) {
  var p = api.coord([r, 0]);
  return Math.hypot(p[0] - params.coordSys.cx, p[1] - params.coordSys.cy);
}
function renderShade(params, api) {
  var cs = params.coordSys;
  var r0 = api.value(0), a0 = api.value(1), r1 = api.value(2), a1 = api.value(3);
  var mid = (a0 + a1) / 2;
  var lp = api.coord([r1 - 16, mid % 360]);
  return {type: 'group', children: [
    {type: 'sector', shape: {cx: cs.cx, cy: cs.cy, r0: pxRadius(params, api, r0), r: pxRadius(params, api, r1),
      startAngle: -a1 * RAD, endAngle: -a0 * RAD, clockwise: true},
      style: {fill: shadeFill[api.value(4)]}},
    {type: 'text', x: lp[0], y: lp[1], rotation: (mid - 90) * RAD,
      style: {text: cladeMarks[api.value(5)][0], fill: '#333', font: '17px "DejaVu Sans"',
        align: 'center', verticalAlign: 'middle', textAlign: 'center', textVerticalAlign: 'middle'}}
  ]};
}
function renderEdge(params, api) {
  var cs = params.coordSys;
  var kind = api.value(0), rA = api.value(1), aA = api.value(2), rB = api.value(3), aB = api.value(4);
  var style = {stroke: cladeInk[api.value(6)], lineWidth: api.value(5), fill: 'none'};
  if (kind === 0) {
    var p = api.coord([rA, aA % 360]), q = api.coord([rB, aA % 360]);
    return {type: 'line', shape: {x1: p[0], y1: p[1], x2: q[0], y2: q[1]}, style: style};
  }
  if (aB - aA < 0.01) return null;
  return {type: 'arc', shape: {cx: cs.cx, cy: cs.cy, r: pxRadius(params, api, rA),
    startAngle: -aB * RAD, endAngle: -aA * RAD, clockwise: true}, style: style};
}
function renderNode(params, api) {
  var p = api.coord([api.value(0), api.value(1)]);
  var g = api.value(3);
  return {type: 'circle', shape: {cx: p[0], cy: p[1], r: api.value(2)},
    style: {fill: nodeFill[g], stroke: g === 3 ? nodeFill[3] : '#2a2a10', lineWidth: 1}};
}

// ---------------- series ----------------
var series = [];
phylumNames.forEach(function (nm, i) {
  series.push(stackBar(nm, [phylumHC[i], phylumOSCC[i]], palette[i], 0, 'A', 365));
});
genusNames.forEach(function (nm, i) {
  series.push(stackBar(nm, [genusHC[i], genusOSCC[i]], palette[i], 1, 'B', 364));
});

var cLayers = layersFromTops([cFirmicutesTop, cBacteroidotaTop, cProteobacteriaTop, cFusobacteriotaTop,
  cActinobacteriotaTop, cPatescibacteriaTop, cSpirochaetotaTop]);
cLayers.forEach(function (arr, i) { series.push(stackBar(phylumNames[i], arr, palette[i], 2, 'C', 20)); });
series.push(stackBar('Campylobacterota', cCampylobacterota, palette[7], 2, 'C', 20));
series.push(stackBar('Others', cSpirochaetotaTop.map(function (t, i) {
  return +Math.max(0, 100 - t - cCampylobacterota[i]).toFixed(2);
}), palette[20], 2, 'C', 20));
series = series.concat(groupBars(3, 'gC', 10));

var dTops = [dStreptococcusTop, dNeisseriaTop, dVeillonellaTop, dPrevotella7Top, dPorphyromonasTop,
  dHaemophilusTop, dPrevotellaTop, dFusobacteriumTop, dAlloprevotellaTop, dLeptotrichiaTop,
  dActinomycesTop, dPeptostreptococcusTop, dCapnocytophagaTop, dGemellaTop, dRothiaTop,
  dSelenomonasTop, dTrichococcusTop, dTreponemaTop, dGranulicatellaTop, dAggregatibacterTop];
layersFromTops(dTops).forEach(function (arr, i) { series.push(stackBar(genusNames[i], arr, palette[i], 4, 'D', 20)); });
series.push(stackBar('Others', dAggregatibacterTop.map(function (t) { return +(100 - t).toFixed(2); }),
  palette[20], 4, 'D', 20));
series = series.concat(groupBars(5, 'gD', 7));

['HC', 'OSCC'].forEach(function (g) {
  series.push({type: 'bar', name: g, stack: 'lda', xAxisIndex: 6, yAxisIndex: 6, barWidth: 27.5,
    data: ldaScore.map(function (v, i) { return ldaGroup[i] === g ? v : '-'; }),
    itemStyle: {color: ldaFill[g], borderColor: '#000', borderWidth: 3.5},
    label: {show: true, position: g === 'HC' ? 'left' : 'right', distance: 10, formatter: '{b}',
      fontFamily: FONT, fontSize: 33, color: '#000'},
    emphasis: {disabled: true}});
});

var markLegendNames = cladeMarks.map(function (m) { return m[0] + ':' + m[1]; });
cladeMarks.forEach(function (m, i) {
  series.push({type: 'scatter', name: markLegendNames[i], data: [],
    itemStyle: {color: m[2] === 'HC' ? ldaFill.HC : ldaFill.OSCC, opacity: 1}});
});

series.push({type: 'custom', coordinateSystem: 'polar', polarIndex: 0, data: shadeData,
  renderItem: renderShade, z: 1, silent: true, progressive: 0});
series.push({type: 'custom', coordinateSystem: 'polar', polarIndex: 0, data: edgeData.concat(hiEdgeData),
  renderItem: renderEdge, z: 2, silent: true, progressive: 0});
series.push({type: 'custom', coordinateSystem: 'polar', polarIndex: 0, data: nodeData,
  renderItem: renderNode, z: 3, silent: true, progressive: 0});

// ---------------- option ----------------
var letterStyle = {fontFamily: FONT, fontSize: 64, fontWeight: 'normal', color: '#000'};
var option = {
  animation: false,
  backgroundColor: '#fff',
  textStyle: {fontFamily: FONT},
  title: [
    {text: 'A', left: 4, top: -4, padding: 0, textStyle: letterStyle},
    {text: 'B', left: 1188, top: -4, padding: 0, textStyle: letterStyle},
    {text: 'C', left: 4, top: 842, padding: 0, textStyle: letterStyle},
    {text: 'D', left: 4, top: 1639, padding: 0, textStyle: letterStyle},
    {text: 'E', left: 8, top: 2505, padding: 0, textStyle: letterStyle},
    {text: 'F', left: 1345, top: 2493, padding: 0, textStyle: letterStyle}
  ],
  grid: [
    {left: 116, top: 80, width: 878, height: 698},
    {left: 1301.5, top: 80, width: 874, height: 696},
    {left: 202, top: 911, width: 1669, height: 640},
    {left: 204, top: 1567, width: 1669, height: 44},
    {left: 203, top: 1723, width: 1715, height: 659},
    {left: 203, top: 2397, width: 1717, height: 44},
    {left: 1381.6, top: 2637, width: 960.5, height: 684}
  ],
  xAxis: [
    {type: 'category', gridIndex: 0, data: groupNames, axisLine: {show: false}, axisTick: {show: false},
      axisLabel: {fontFamily: FONT, fontSize: 36, color: '#000', margin: 22}},
    {type: 'category', gridIndex: 1, data: groupNames, axisLine: {show: false}, axisTick: {show: false},
      axisLabel: {fontFamily: FONT, fontSize: 36, color: '#000', margin: 22}},
    {type: 'category', gridIndex: 2, data: sampleNames, show: false},
    {type: 'value', gridIndex: 3, min: 0, max: sampleTotal, show: false},
    {type: 'category', gridIndex: 4, data: sampleNames, show: false},
    {type: 'value', gridIndex: 5, min: 0, max: sampleTotal, show: false},
    {type: 'value', gridIndex: 6, min: -4, max: 4.5, interval: 1, offset: 20,
      axisLine: {show: false},
      axisTick: {show: true, length: 10, lineStyle: {color: '#000', width: 3}, customValues: ldaTicks},
      axisLabel: {fontFamily: FONT, fontSize: 30, color: '#000', margin: 18, customValues: ldaTicks},
      splitLine: {show: false},
      name: 'LDA SCORE(log 10)', nameLocation: 'middle', nameGap: 58,
      nameTextStyle: {fontFamily: FONT, fontSize: 34, color: '#000'}}
  ],
  yAxis: [
    abundanceAxis(0, 0, 48),
    abundanceAxis(1, 0, 47),
    abundanceAxis(2, 65, 49),
    {type: 'category', gridIndex: 3, data: ['group'], show: false},
    abundanceAxis(4, 68, 48),
    {type: 'category', gridIndex: 5, data: ['group'], show: false},
    {type: 'category', gridIndex: 6, data: ldaTaxa, inverse: true, show: false}
  ],
  polar: {center: [510, 3035], radius: 500},
  angleAxis: {polarIndex: 0, type: 'value', min: 0, max: 360, startAngle: 0, clockwise: false, show: false},
  radiusAxis: {polarIndex: 0, type: 'value', min: 0, max: 500, show: false},
  legend: [
    legendBlock(phylumNames, 982, 90, {itemWidth: 14, itemHeight: 13, itemGap: -4.3,
      textStyle: {fontFamily: FONT, fontSize: 29, color: '#000'},
      formatter: function (n) { return n === 'Candidatus_Saccharibacteria' ? 'Candidatus_\nSaccharibacteria' : n; }}),
    legendBlock(genusNames, 2174, 92, {itemWidth: 14, itemHeight: 13, itemGap: -3.6,
      textStyle: {fontFamily: FONT, fontSize: 29, color: '#000'}}),
    legendBlock(phylumNames, 1919, 918, {itemWidth: 18, itemHeight: 15, itemGap: -4.25,
      textStyle: {fontFamily: FONT, fontSize: 33, color: '#000'}}),
    legendBlock(genusNames, 1971, 1730, {itemWidth: 16, itemHeight: 15, itemGap: -4.5,
      textStyle: {fontFamily: FONT, fontSize: 32, color: '#000'}}),
    legendBlock(['OSCC', 'HC'], 75, 2573, {itemWidth: 59, itemHeight: 21, itemGap: 8,
      itemStyle: {borderWidth: 0},
      textStyle: {fontFamily: FONT, fontSize: 37, color: '#000', padding: [0, 0, 0, 17]}}),
    legendBlock(markLegendNames, 1034, 2560, {itemWidth: 45, itemHeight: 18, itemGap: -2.6,
      itemStyle: {borderColor: '#000', borderWidth: 3},
      textStyle: {fontFamily: FONT, fontSize: 33, color: '#000'}}),
    legendBlock(['OSCC'], 1401, 2562, {itemWidth: 82, itemHeight: 29,
      itemStyle: {borderColor: '#000', borderWidth: 4},
      textStyle: {fontFamily: FONT, fontSize: 37, color: '#000', padding: [0, 0, 0, 16]}}),
    legendBlock(['HC'], 1733, 2562, {itemWidth: 82, itemHeight: 29,
      itemStyle: {borderColor: '#000', borderWidth: 4},
      textStyle: {fontFamily: FONT, fontSize: 37, color: '#000', padding: [0, 0, 0, 16]}})
  ],
  series: series
};

var chart = echarts.init(document.getElementById('fig'));
chart.setOption(option);
</script>
</body>
</html>
